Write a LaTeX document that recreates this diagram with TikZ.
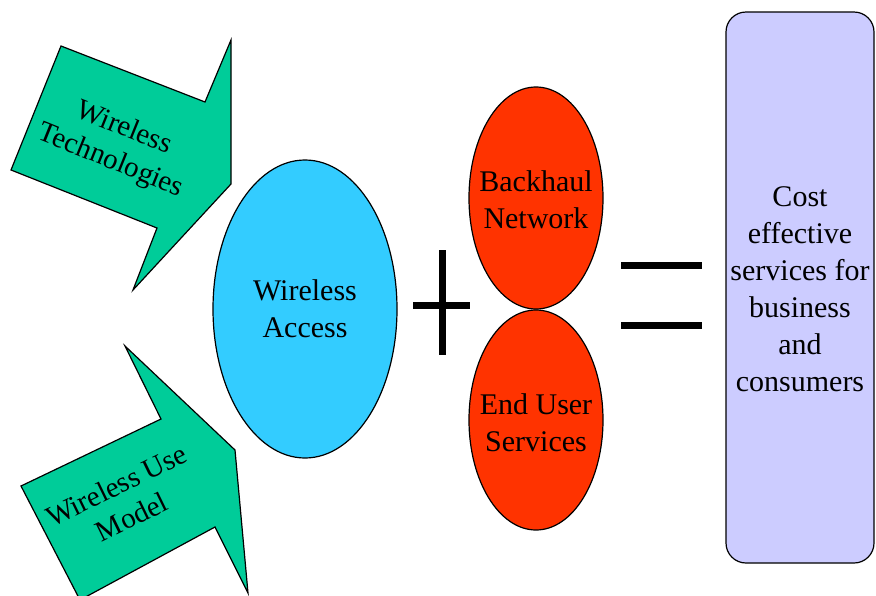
\documentclass[tikz,border=0pt]{standalone}
\usepackage{fontspec}
\setmainfont{Liberation Serif}
\usepackage{tikz}
\usetikzlibrary{shapes.geometric}
\definecolor{arrowgreen}{HTML}{00CC99}
\definecolor{accessblue}{HTML}{33CCFF}
\definecolor{netred}{HTML}{FF3300}
\definecolor{resultlilac}{HTML}{CCCCFF}

\begin{document}
\begin{tikzpicture}[x=1pt,y=-1pt,line width=1.2pt,
  big/.style={font=\fontsize{30}{37}\selectfont, align=center, inner sep=0pt},
  slanted/.style={font=\fontsize{29}{35}\selectfont, align=center, inner sep=0pt},
  blob/.style={draw, ellipse, inner sep=0pt},
  sign/.style={line width=7pt}]
\useasboundingbox (0,0) rectangle (876,595);
\clip (0,0) rectangle (876,595);
% arrows into the access ellipse
\draw[fill=arrowgreen] (61,46) -- (205,102) -- (231,40) -- (231,184) -- (133,290) -- (157,228) -- (11,170) -- cycle;
\draw[fill=arrowgreen] (21,486) -- (161,419) -- (125,346) -- (235,450) -- (248,593) -- (215,527) -- (80,600) -- cycle;
\node[slanted, rotate=-22] (tech) at (117,145) {Wireless\\Technologies};
\node[slanted, rotate=26] (use) at (124,501) {Wireless Use\\Model};
% the sum
\node[blob, fill=accessblue, minimum width=184pt, minimum height=298pt] (access) at (305,309) {};
\node[big] (accesstext) at (access) {Wireless\\Access};
\node[blob, fill=netred, minimum width=134pt, minimum height=222pt] (backhaul) at (536,198) {};
\node[big] (backhaultext) at (536,200) {Backhaul\\Network};
\node[blob, fill=netred, minimum width=134pt, minimum height=220pt] (enduser) at (536,420) {};
\node[big] (endusertext) at (536,423) {End User\\Services};
\draw[sign] (442,250) -- (442,355);
\draw[sign] (413,305) -- (470,305);
\draw[sign] (621,265) -- (702,265);
\draw[sign] (621,325) -- (702,325);
% the result
\draw[fill=resultlilac, rounded corners=20pt] (726,12) rectangle (874,563);
\node[big] (result) at (800,289) {Cost\\effective\\services for\\business\\and\\consumers};
\end{tikzpicture}
\end{document}
